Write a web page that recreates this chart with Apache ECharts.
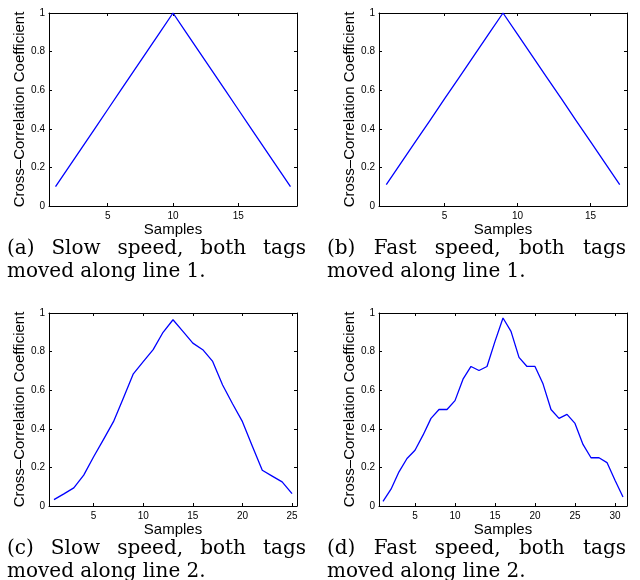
<!DOCTYPE html>
<html>
<head>
<meta charset="utf-8">
<script src="https://cdn.jsdelivr.net/npm/echarts@6/dist/echarts.min.js"></script>
<style>
html,body{margin:0;padding:0;background:#fff;}
#chart{width:640px;height:580px;}
</style>
</head>
<body>
<div id="chart"></div>
<script>
// ---- data ----
var samplesA = [1,2,3,4,5,6,7,8,9,10,11,12,13,14,15,16,17,18,19];
var valuesA = [0.1,0.2,0.3,0.4,0.5,0.6,0.7,0.8,0.9,1.0,0.9,0.8,0.7,0.6,0.5,0.4,0.3,0.2,0.1];
var samplesB = [1,2,3,4,5,6,7,8,9,10,11,12,13,14,15,16,17];
var valuesB = [0.111,0.222,0.333,0.444,0.556,0.667,0.778,0.889,1.0,0.889,0.778,0.667,0.556,0.444,0.333,0.222,0.111];
var samplesC = [1,2,3,4,5,6,7,8,9,10,11,12,13,14,15,16,17,18,19,20,21,22,23,24,25];
var valuesC = [0.033,0.063,0.094,0.16,0.255,0.345,0.437,0.56,0.685,0.748,0.81,0.90,0.965,0.905,0.844,0.81,0.749,0.627,0.53,0.437,0.31,0.185,0.155,0.125,0.064];
var samplesD = [1,2,3,4,5,6,7,8,9,10,11,12,13,14,15,16,17,18,19,20,21,22,23,24,25,26,27,28,29,30,31];
var valuesD = [0.024,0.087,0.177,0.246,0.289,0.367,0.454,0.50,0.50,0.546,0.657,0.723,0.702,0.723,0.853,0.974,0.905,0.77,0.723,0.723,0.633,0.50,0.454,0.475,0.428,0.319,0.25,0.25,0.225,0.133,0.047];

var xTicksA = [5,10,15];
var xTicksB = [5,10,15];
var xTicksC = [5,10,15,20,25];
var xTicksD = [5,10,15,20,25,30];
var yTicks = [0,0.2,0.4,0.6,0.8,1];

var xName = 'Samples';
var yName = 'Cross\u2013Correlation Coefficient';

var captions = [
  {words:['(a)','Slow','speed,','both','tags'], line2:'moved along line 1.'},
  {words:['(b)','Fast','speed,','both','tags'], line2:'moved along line 1.'},
  {words:['(c)','Slow','speed,','both','tags'], line2:'moved along line 2.'},
  {words:['(d)','Fast','speed,','both','tags'], line2:'moved along line 2.'}
];

// ---- layout ----
var panels = [
  {left:49, top:13, xs:samplesA, ys:valuesA, xmin:0.5, xmax:19.5, ticks:xTicksA, cx:0},
  {left:379, top:13, xs:samplesB, ys:valuesB, xmin:0.5, xmax:17.5, ticks:xTicksB, cx:320},
  {left:49, top:313, xs:samplesC, ys:valuesC, xmin:0.5, xmax:25.5, ticks:xTicksC, cx:0},
  {left:379, top:313, xs:samplesD, ys:valuesD, xmin:0.5, xmax:31.5, ticks:xTicksD, cx:320}
];
var W = 248, H = 193;
var sans = 'Liberation Sans, Arial, Helvetica, sans-serif';
var serif = 'DejaVu Serif, serif';
var capFont = '20px ' + serif;

var measureCtx = document.createElement('canvas').getContext('2d');
measureCtx.font = capFont;

var grids = [], xAxes = [], yAxes = [], series = [], graphics = [];
var lineStyleAx = {color:'#000', width:1};

panels.forEach(function(p, i){
  grids.push({left:p.left, top:p.top, width:W, height:H, containLabel:false});
  xAxes.push({
    type:'value', gridIndex:i, min:p.xmin, max:p.xmax, position:'bottom',
    name:xName, nameLocation:'middle', nameGap:14,
    nameTextStyle:{fontFamily:sans, fontSize:15, color:'#000'},
    axisLine:{show:true, onZero:false, lineStyle:lineStyleAx},
    axisTick:{show:true, inside:true, length:3, customValues:p.ticks, lineStyle:lineStyleAx},
    axisLabel:{show:true, customValues:p.ticks, margin:5, fontFamily:sans, fontSize:10, color:'#000'},
    splitLine:{show:false}
  });
  xAxes.push({
    type:'value', gridIndex:i, min:p.xmin, max:p.xmax, position:'top',
    axisLine:{show:true, onZero:false, lineStyle:lineStyleAx},
    axisTick:{show:true, inside:true, length:3, customValues:p.ticks, lineStyle:lineStyleAx},
    axisLabel:{show:false}, splitLine:{show:false}
  });
  yAxes.push({
    type:'value', gridIndex:i, min:0, max:1, position:'left',
    name:yName, nameLocation:'middle', nameGap:21, nameRotate:90,
    nameTextStyle:{fontFamily:sans, fontSize:15, color:'#000'},
    axisLine:{show:true, onZero:false, lineStyle:lineStyleAx},
    axisTick:{show:true, inside:true, length:3, customValues:yTicks, lineStyle:lineStyleAx},
    axisLabel:{show:true, customValues:yTicks, margin:4, fontFamily:sans, fontSize:10, color:'#000',
      formatter:function(v){return String(+v.toFixed(1));}},
    splitLine:{show:false}
  });
  yAxes.push({
    type:'value', gridIndex:i, min:0, max:1, position:'right',
    axisLine:{show:true, onZero:false, lineStyle:lineStyleAx},
    axisTick:{show:true, inside:true, length:3, customValues:yTicks, lineStyle:lineStyleAx},
    axisLabel:{show:false}, splitLine:{show:false}
  });
  series.push({
    type:'line', xAxisIndex:2*i, yAxisIndex:2*i,
    data:p.xs.map(function(x, k){return [x, p.ys[k]];}),
    showSymbol:false, symbol:'none', smooth:false,
    lineStyle:{color:'#0000ff', width:1.3},
    animation:false
  });

  // captions (justified first line between x0 and x1)
  var c = captions[i];
  var base1 = p.top + 246;
  var base2 = p.top + 269;
  var x0 = p.cx + 7, x1 = p.cx + 306;
  var widths = c.words.map(function(w){ return measureCtx.measureText(w).width; });
  var total = widths.reduce(function(a, b){ return a + b; }, 0);
  var gap = (x1 - x0 - total) / (c.words.length - 1);
  var cur = x0;
  c.words.forEach(function(w, k){
    graphics.push({type:'text', x:cur, y:base1,
      style:{text:w, font:capFont, fill:'#000', textAlign:'left', textVerticalAlign:'bottom'}});
    cur += widths[k] + gap;
  });
  graphics.push({type:'text', x:x0, y:base2,
    style:{text:c.line2, font:capFont, fill:'#000', textAlign:'left', textVerticalAlign:'bottom'}});
});

var chart = echarts.init(document.getElementById('chart'), null, {renderer:'canvas'});
chart.setOption({
  animation:false,
  backgroundColor:'#fff',
  grid:grids, xAxis:xAxes, yAxis:yAxes, series:series,
  graphic:graphics
});
</script>
</body>
</html>
